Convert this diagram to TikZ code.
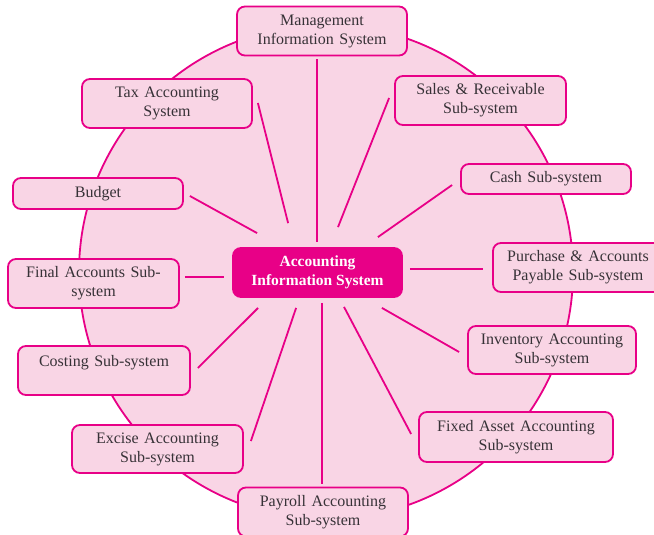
\documentclass[tikz,border=0pt]{standalone}
\usepackage{fontspec}
\setmainfont{Liberation Serif}
\definecolor{mag}{RGB}{232,0,135}
\definecolor{pinkbg}{RGB}{249,213,229}
\definecolor{txt}{RGB}{55,50,55}
\newcommand{\boxfont}{\fontsize{16}{19}\selectfont\spaceskip=5.5pt plus 1pt minus 0.5pt\relax}
\begin{document}
\begin{tikzpicture}[x=1pt,y=-1pt,
  box/.style={draw=mag, line width=1.8pt, fill=pinkbg, rounded corners=8pt,
    minimum width=170pt, minimum height=49pt, inner sep=0pt, align=center,
    text=txt, font=\boxfont},
  lowbox/.style={box, minimum height=30pt},
  hub/.style={box, draw=mag, fill=mag, text=white, minimum width=169pt,
    font=\fontsize{15.5}{19}\selectfont\bfseries},
  spoke/.style={draw=mag, line width=1.8pt}]
\clip (0,0) rectangle (654,535);
\fill[white] (0,0) rectangle (654,535);
\draw[mag, line width=1.8pt, fill=pinkbg] (326,272) circle (247);

\node[box] (mis) at (322,31) {Management\\Information System};
\node[box] (tax) at (167,103.5) {Tax Accounting\\System};
\node[box, minimum width=171pt] (sales) at (480.5,100.5) {Sales \& Receivable\\Sub-system};
\node[lowbox, minimum height=31pt] (budget) at (98,193.5) {Budget};
\node[lowbox] (cash) at (546,179) {Cash Sub-system};
\node[hub] (ais) at (317.5,272.5) {Accounting\\Information System};
\node[box, minimum width=171pt] (final) at (93.5,283.5) {Final Accounts Sub-\\system};
\node[box] (purchase) at (578,267.5) {Purchase \& Accounts\\Payable Sub-system};
\node[box, minimum width=172pt] (costing) at (104,370.5) {Costing Sub-system\\\mbox{}};
\node[box, minimum width=168pt, minimum height=48pt] (inventory) at (552,350) {Inventory Accounting\\Sub-system};
\node[box, minimum width=171pt, minimum height=48pt] (excise) at (157.5,449) {Excise Accounting\\Sub-system};
\node[box, minimum width=194pt, minimum height=50pt] (fixed) at (516,437) {Fixed Asset Accounting\\Sub-system};
\node[box] (payroll) at (323,512) {Payroll Accounting\\Sub-system};

\draw[spoke] ([shift={(-5,3)}]mis.south) -- ([shift={(-0.5,-5)}]ais.north);
\draw[spoke] ([shift={(5,-0.5)}]tax.east) -- ([shift={(56,-24)}]ais.north west);
\draw[spoke] ([shift={(-5,-2.5)}]sales.west) -- ([shift={(20.5,-20)}]ais.north);
\draw[spoke] ([shift={(6,2.5)}]budget.east) -- ([shift={(25,-14)}]ais.north west);
\draw[spoke] ([shift={(-8,6)}]cash.west) -- ([shift={(-25,-10)}]ais.north east);
\draw[spoke] ([shift={(5,-6.5)}]final.east) -- ([shift={(-8,4.5)}]ais.west);
\draw[spoke] ([shift={(7,-3.5)}]ais.east) -- ([shift={(-9,1.5)}]purchase.west);
\draw[spoke] ([shift={(26,10)}]ais.south west) -- ([shift={(7,-2.5)}]costing.east);
\draw[spoke] ([shift={(64,10)}]ais.south west) -- ([shift={(7,-8)}]excise.east);
\draw[spoke] ([shift={(4.5,5)}]ais.south) -- ([shift={(-1,-3)}]payroll.north);
\draw[spoke] ([shift={(26.5,9)}]ais.south) -- ([shift={(-7,-3)}]fixed.west);
\draw[spoke] ([shift={(-21,10)}]ais.south east) -- ([shift={(-8,2)}]inventory.west);
\end{tikzpicture}
\end{document}
